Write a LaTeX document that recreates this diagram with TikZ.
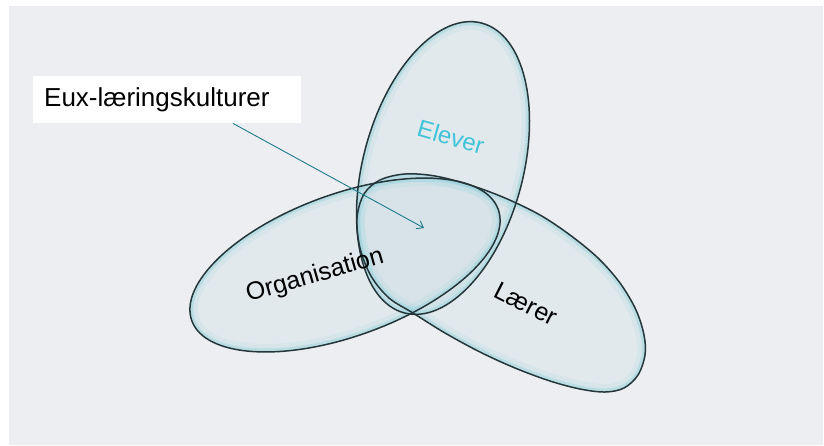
\documentclass[tikz,border=0pt]{standalone}
\usepackage{fontspec}
\setmainfont{Liberation Sans}
\usetikzlibrary{arrows.meta,calc}
\definecolor{bggrey}{RGB}{236,238,242}
\definecolor{shapefill}{RGB}{208,224,230}
\definecolor{rimcol}{RGB}{150,212,222}
\definecolor{outlinecol}{RGB}{36,54,58}
\definecolor{arrowcol}{RGB}{31,123,140}
\definecolor{elevercol}{RGB}{62,196,216}
\def\ElevPath{[rotate around={75:(443,168)}] (443,168) ellipse [x radius=150, y radius=80]}
\def\OrgPath{[rotate around={20:(345,265)}] (345,265) ellipse [x radius=163, y radius=71]}
\def\LaerPath{plot[smooth cycle, tension=0.55] coordinates {(364,194) (380,180) (405,174) (435,176) (470,185) (505,198) (540,215) (570,235) (598,258) (620,283) (636,310) (644,335) (645,355) (638,375) (624,388) (605,392) (580,389) (550,381) (515,368) (480,352) (445,333) (413,313) (389,298) (371,276) (360,248) (357,218)}}
\tikzset{
  shapebody/.style={fill=shapefill, fill opacity=0.35},
  rimwide/.style={draw=rimcol, line width=16pt, draw opacity=0.16},
  rimnarrow/.style={draw=rimcol, line width=7pt, draw opacity=0.42},
  outline/.style={draw=outlinecol, line width=1.5pt},
  lbltext/.style={font=\fontsize{25}{29}\selectfont, inner sep=0pt},
  boxstyle/.style={fill=white, minimum height=47pt, text width=246pt, inner xsep=11pt, inner ysep=0pt, align=left, font=\fontsize{26}{30}\selectfont},
  arrowstyle/.style={draw=arrowcol, line width=0.9pt, -{Straight Barb[length=6pt, width=9pt]}}
}
\begin{document}
\begin{tikzpicture}[x=1pt, y=-1pt]
\useasboundingbox (0,0) rectangle (824,445);
\fill[white] (0,0) rectangle (824,445);
\fill[bggrey] (9,6) rectangle (823,445);
% bodies
\fill[shapebody] \OrgPath;
\fill[shapebody] \LaerPath;
\fill[shapebody] \ElevPath;
% rims
\begin{scope}\clip \OrgPath; \path[rimwide] \OrgPath; \path[rimnarrow] \OrgPath; \end{scope}
\begin{scope}\clip \LaerPath; \path[rimwide] \LaerPath; \path[rimnarrow] \LaerPath; \end{scope}
\begin{scope}\clip \ElevPath; \path[rimwide] \ElevPath; \path[rimnarrow] \ElevPath; \end{scope}
% outlines
\path[outline] \OrgPath;
\path[outline] \LaerPath;
\path[outline] \ElevPath;
% labels
\node[lbltext, font=\fontsize{24}{28}\selectfont, rotate=-16, text=elevercol] (elever) at (451,137) {Elever};
\node[lbltext, rotate=16] (org) at (315,276) {Organisation};
\node[lbltext, rotate=-27] (laerer) at (526,304) {Lærer};
% callout
\node[boxstyle, anchor=north west] (lbl) at (33,76) {Eux-læringskulturer};
\coordinate (target) at (424,228);
\draw[arrowstyle] ($(lbl.south west)+(200,0)$) -- (target);
\end{tikzpicture}
\end{document}
